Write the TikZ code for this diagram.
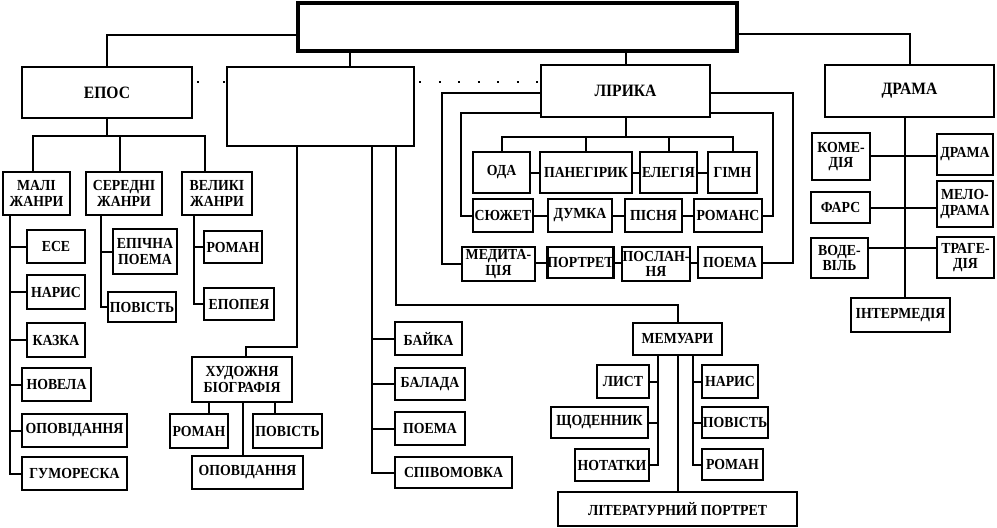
\documentclass[tikz,border=0pt]{standalone}
\usepackage{fontspec}
\setmainfont{Liberation Serif}[FakeStretch=0.9]
\usetikzlibrary{calc}
\tikzset{
  box/.style={draw, line width=1.8pt, inner sep=0pt, align=center,
    font=\bfseries\fontsize{11.5}{11.8}\selectfont},
  bigbox/.style={box, font=\bfseries\fontsize{13}{14}\selectfont},
  conn/.style={line width=1.5pt},
  dotsA/.style={line width=2.2pt, dash pattern=on 1.6pt off 17.9pt, dash phase=16.5pt},
  dotsB/.style={line width=2.2pt, dash pattern=on 1.6pt off 13.03pt, dash phase=11.6pt},
}
\newcommand\bx[7][box]{\node[#1, minimum width={(#5-#3)*0.75pt}, minimum height={(#6-#4)*0.75pt}] (#2) at ({(#3+#5)/2},{(#4+#6)/2}) {#7};}
\begin{document}
\begin{tikzpicture}[x=0.75pt,y=-0.75pt]
\useasboundingbox (0,0) rectangle (997,528);
% top level
\node[draw, line width=3.2pt, inner sep=0pt, minimum width={439*0.75pt}, minimum height={48*0.75pt}] (top) at (517.5,27) {};
\bx[bigbox]{epos}{22}{67}{192}{118}{ЕПОС}
\bx{blank}{227}{67}{414}{146}{}
\bx[bigbox]{lir}{541}{65}{710}{117}{ЛІРИКА}
\bx[bigbox]{dram}{825}{65}{994}{117}{ДРАМА}
\draw[conn] (top.west |- 0,35) -| (epos.north);
\draw[conn] (top.east |- 0,34) -| (dram.north);
\draw[conn] (350,0 |- top.south) -- (350,0 |- blank.north);
\draw[conn] (top.south -| lir.north) -- (lir.north);
\draw[dotsA] (epos.east |- 0,82) -- (blank.west |- 0,82);
\draw[dotsB] (blank.east |- 0,82) -- (lir.west |- 0,82);
% epic
\bx{mal}{3}{172}{70}{215}{МАЛІ\\ЖАНРИ}
\bx{ser}{86}{172}{162}{215}{СЕРЕДНІ\\ЖАНРИ}
\bx{vel}{182}{172}{252}{215}{ВЕЛИКІ\\ЖАНРИ}
\bx{ese}{27}{230}{85}{263}{ЕСЕ}
\bx{nar}{27}{275}{85}{309}{НАРИС}
\bx{kaz}{27}{323}{85}{357}{КАЗКА}
\bx{nov}{22}{368}{91}{401}{НОВЕЛА}
\bx{opo}{22}{414}{127}{447}{ОПОВІДАННЯ}
\bx{gum}{22}{457}{127}{490}{ГУМОРЕСКА}
\bx{epi}{113}{229}{177}{274}{ЕПІЧНА\\ПОЕМА}
\bx{povA}{108}{292}{176}{322}{ПОВІСТЬ}
\bx{romA}{204}{231}{262}{263}{РОМАН}
\bx{epo}{204}{288}{274}{320}{ЕПОПЕЯ}
\draw[conn] (epos.south) -- (epos.south |- 0,136);
\draw[conn] (33,0 |- mal.north) -- (33,136) -- (205,136) -- (205,0 |- vel.north);
\draw[conn] (120,136) -- (120,0 |- ser.north);
\draw[conn] (10,0 |- mal.south) |- (gum.west);
\foreach \n in {ese,nar,kaz,nov,opo} \draw[conn] (10,0 |- \n.west) -- (\n.west);
\draw[conn] (101,0 |- ser.south) |- (povA.west);
\draw[conn] (101,0 |- epi.west) -- (epi.west);
\draw[conn] (194,0 |- vel.south) |- (epo.west);
\draw[conn] (194,0 |- romA.west) -- (romA.west);
% biography
\bx{bio}{192}{357}{292}{402}{ХУДОЖНЯ\\БІОГРАФІЯ}
\bx{romB}{170}{414}{228}{448}{РОМАН}
\bx{povB}{253}{414}{322}{448}{ПОВІСТЬ}
\bx{opoB}{192}{456}{303}{489}{ОПОВІДАННЯ}
\draw[conn] (297,0 |- blank.south) -- (297,347) -| (bio.north -| 246,0);
\draw[conn] (209,0 |- bio.south) -- (209,0 |- romB.north);
\draw[conn] (275,0 |- bio.south) -- (275,0 |- povB.north);
\draw[conn] (243,0 |- bio.south) -- (243,0 |- opoB.north);
% lyro-epic
\bx{baj}{395}{322}{462}{355}{БАЙКА}
\bx{bal}{395}{368}{465}{400}{БАЛАДА}
\bx{poeB}{395}{412}{465}{445}{ПОЕМА}
\bx{spi}{395}{457}{512}{488}{СПІВОМОВКА}
\draw[conn] (372,0 |- blank.south) |- (spi.west);
\foreach \n in {baj,bal,poeB} \draw[conn] (372,0 |- \n.west) -- (\n.west);
% memoirs
\bx{mem}{633}{323}{722}{355}{МЕМУАРИ}
\bx{lyst}{597}{365}{649}{398}{ЛИСТ}
\bx{shod}{551}{407}{648}{438}{ЩОДЕННИК}
\bx{nota}{575}{449}{649}{481}{НОТАТКИ}
\bx{narB}{702}{365}{758}{398}{НАРИС}
\bx{povC}{702}{407}{768}{438}{ПОВІСТЬ}
\bx{romC}{702}{449}{763}{480}{РОМАН}
\bx{lit}{558}{492}{797}{526}{ЛІТЕРАТУРНИЙ ПОРТРЕТ}
\draw[conn] (396,0 |- blank.south) -- (396,305) -| (mem.north);
\draw[conn] (658,0 |- mem.south) |- (nota.east);
\foreach \n in {lyst,shod} \draw[conn] (658,0 |- \n.east) -- (\n.east);
\draw[conn] (678,0 |- mem.south) -- (678,0 |- lit.north);
\draw[conn] (693,0 |- mem.south) |- (romC.west);
\foreach \n in {narB,povC} \draw[conn] (693,0 |- \n.west) -- (\n.west);
% lyric
\bx{oda}{473}{152}{530}{193}{ОДА}
\bx{pan}{540}{152}{632}{193}{ПАНЕГІРИК}
\bx{ele}{640}{152}{697}{193}{ЕЛЕГІЯ}
\bx{gim}{708}{152}{757}{193}{ГІМН}
\bx{syu}{473}{199}{533}{232}{СЮЖЕТ}
\bx{dum}{548}{199}{612}{232}{ДУМКА}
\bx{pis}{625}{199}{682}{232}{ПІСНЯ}
\bx{roms}{694}{199}{762}{232}{РОМАНС}
\bx{med}{462}{247}{535}{281}{МЕДИТА-\\ЦІЯ}
\bx{por}{548}{247}{613}{278}{ПОРТРЕТ}
\bx{pos}{622}{247}{690}{281}{ПОСЛАН-\\НЯ}
\bx{poe}{698}{247}{762}{278}{ПОЕМА}
\draw[conn] (lir.south) -- (lir.south |- 0,137);
\draw[conn] (oda.north) -- (oda.north |- 0,137) -- (gim.north |- 0,137) -- (gim.north);
\draw[conn] (pan.north) -- (pan.north |- 0,137);
\draw[conn] (ele.north) -- (ele.north |- 0,137);
\draw[conn] (oda.east) -- (pan.west);
\draw[conn] (pan.east) -- (ele.west);
\draw[conn] (ele.east) -- (gim.west);
\draw[conn] (syu.east) -- (dum.west);
\draw[conn] (dum.east) -- (pis.west);
\draw[conn] (pis.east) -- (roms.west);
\draw[conn] (med.east |- por.west) -- (por.west);
\draw[conn] (por.east) -- (pos.west |- por.east);
\draw[conn] (pos.east |- poe.west) -- (poe.west);
\draw[conn] (lir.west |- 0,113) -- (461,113) |- (syu.west);
\draw[conn] (lir.east |- 0,113) -- (773,113) |- (roms.east);
\draw[conn] (lir.west |- 0,93) -- (442,93) |- (med.west);
\draw[conn] (lir.east |- 0,93) -- (793,93) |- (poe.east);
% drama
\bx{kom}{812}{133}{870}{180}{КОМЕ-\\ДІЯ}
\bx{drB}{937}{134}{993}{175}{ДРАМА}
\bx{far}{811}{192}{870}{223}{ФАРС}
\bx{mel}{937}{181}{993}{227}{МЕЛО-\\ДРАМА}
\bx{vod}{811}{238}{868}{278}{ВОДЕ-\\ВІЛЬ}
\bx{tra}{937}{237}{994}{278}{ТРАГЕ-\\ДІЯ}
\bx{inter}{851}{298}{950}{332}{ІНТЕРМЕДІЯ}
\draw[conn] (905,0 |- dram.south) -- (905,0 |- inter.north);
\draw[conn] (kom.east) -- (drB.west |- kom.east);
\draw[conn] (far.east) -- (mel.west |- far.east);
\draw[conn] (vod.east |- 0,248) -- (tra.west |- 0,248);
\end{tikzpicture}
\end{document}
